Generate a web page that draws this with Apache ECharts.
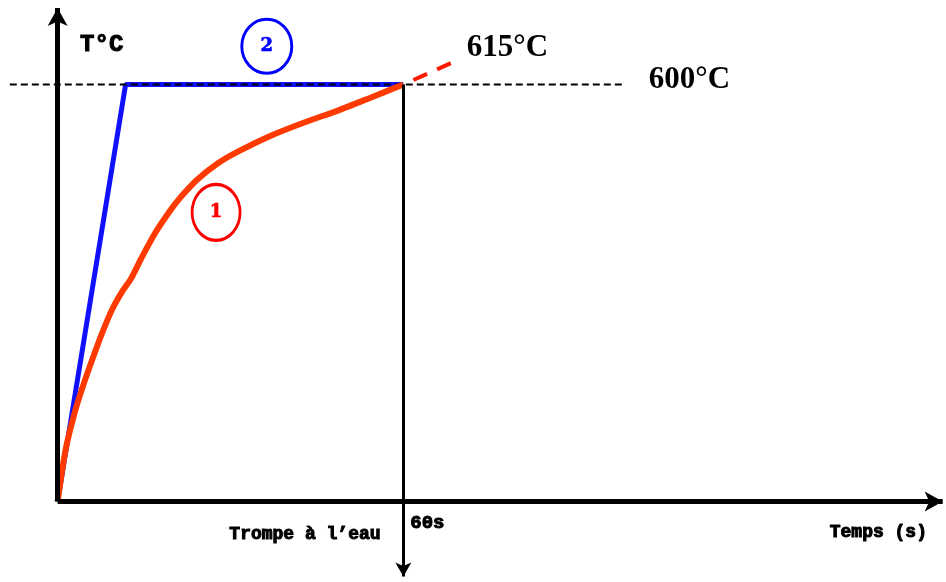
<!DOCTYPE html>
<html>
<head>
<meta charset="utf-8">
<script src="https://cdn.jsdelivr.net/npm/echarts@6/dist/echarts.min.js"></script>
<style>html,body{margin:0;padding:0;background:#fff}#c{width:946px;height:582px}</style>
</head>
<body>
<div id="c"></div>
<script>
// ---- data ----
const blueTime = [0, 11.8, 60];
const blueTemp = [0, 600, 600];
const redTime = [0, 1.4, 3.1, 4.6, 6.0, 7.75, 9.5, 11.2, 12.7, 14.1, 15.3, 16.9, 18.4, 20.2, 21.9, 24.2, 27.7, 31.2, 36.9, 42.7, 48.5, 54.3, 60];
const redTemp = [0, 75, 132, 171, 204, 243, 277, 302, 320, 343, 362, 386, 405, 426, 443, 463, 486, 503, 526, 545, 562, 581, 600];
const holdTemp = 600;            // palier 600°C
const quenchTime = 60;           // 60s
const extrapTime = [60, 68.6];   // red dashed extrapolation
const extrapTemp = [600, 632];
const dashedTime = [-8.3, 98.5]; // black dashed 600°C line extent
const xAxisEnd = 153.6, yAxisEnd = 710, quenchLineEnd = -108;
const labelTexts = ['T°C', '615°C', '600°C', 'Trompe à l\u2019eau', '60s', 'Temps (s)'];
const labelTime = [3.9, 71.0, 102.6, 29.8, 61.2, 134.0];
const labelTemp = [657, 652, 606, -48, -31, -45];
const circleText = ['2', '1'];
const circleTime = [36.3, 27.5];
const circleTemp = [655, 416];

const zip = (a, b) => a.map((v, i) => [v, b[i]]);

const slab = {fontFamily: 'Liberation Mono', fontWeight: 'bold', color: '#000', textBorderColor: '#000', textBorderWidth: 1};
const times = {fontFamily: 'Liberation Serif', fontWeight: 'bold', color: '#000', fontSize: 31};
const labelStyles = [
  Object.assign({fontSize: 24}, slab),
  times, times,
  Object.assign({fontSize: 18}, slab),
  Object.assign({fontSize: 19}, slab),
  Object.assign({fontSize: 18}, slab)
];

const chart = echarts.init(document.getElementById('c'), null, {renderer: 'canvas'});
chart.setOption({
  animation: false,
  backgroundColor: '#fff',
  grid: {left: 0, right: 1, top: 8, bottom: 4},
  xAxis: {type: 'value', min: -10, max: 154, show: false},
  yAxis: {type: 'value', min: -110, max: 710, show: false},
  series: [
    {
      type: 'line', name: 'axes', data: [], silent: true,
      markLine: {
        silent: true, animation: false,
        label: {show: false},
        data: [
          [{coord: [0, 0], symbol: 'none', lineStyle: {color: '#000', width: 5, type: 'solid'}},
           {coord: [0, yAxisEnd], symbol: 'arrow', symbolSize: [15, 18]}],
          [{coord: [0, 0], symbol: 'none', lineStyle: {color: '#000', width: 5, type: 'solid'}},
           {coord: [xAxisEnd, 0], symbol: 'arrow', symbolSize: [15, 18]}],
          [{coord: [quenchTime, holdTemp], symbol: 'none', lineStyle: {color: '#000', width: 3, type: 'solid'}},
           {coord: [quenchTime, quenchLineEnd], symbol: 'arrow', symbolSize: [12, 14]}]
        ]
      }
    },
    {
      type: 'line', name: '2', data: zip(blueTime, blueTemp),
      symbol: 'none', lineStyle: {color: '#1010ff', width: 5}, z: 2
    },
    {
      type: 'line', name: 'palier', data: [[dashedTime[0], holdTemp], [dashedTime[1], holdTemp]],
      symbol: 'none', lineStyle: {color: '#000', width: 2, type: [7, 4]}, z: 3
    },
    {
      type: 'line', name: 'extrap', data: zip(extrapTime, extrapTemp),
      symbol: 'none', lineStyle: {color: '#ff1a00', width: 4, type: [15, 11], dashOffset: 15}, z: 3
    },
    {
      type: 'line', name: '1', data: zip(redTime, redTemp),
      symbol: 'none', smooth: 0.25, lineStyle: {color: '#ff3a00', width: 6}, z: 4
    },
    {
      type: 'scatter', name: 'circles', z: 5, itemStyle: {opacity: 1},
      data: circleText.map((t, i) => ({
        value: [circleTime[i], circleTemp[i]],
        symbolSize: i === 0 ? [50, 54] : [48, 56],
        itemStyle: {opacity: 1, color: 'rgba(0,0,0,0)', borderColor: i === 0 ? '#0000ff' : '#ff0000', borderWidth: 3},
        label: {show: true, position: 'inside', formatter: t, fontFamily: 'DejaVu Serif', fontWeight: 'bold', fontSize: 18,
                color: i === 0 ? '#0000ff' : '#ff0000', textBorderColor: i === 0 ? '#0000ff' : '#ff0000', textBorderWidth: 0.6}
      }))
    },
    {
      type: 'scatter', name: 'labels', z: 6, symbolSize: 0, silent: true, itemStyle: {opacity: 1},
      data: labelTexts.map((t, i) => ({
        value: [labelTime[i], labelTemp[i]],
        label: Object.assign({show: true, position: 'inside', align: 'left', verticalAlign: 'middle', formatter: t}, labelStyles[i])
      }))
    }
  ]
});
</script>
</body>
</html>
